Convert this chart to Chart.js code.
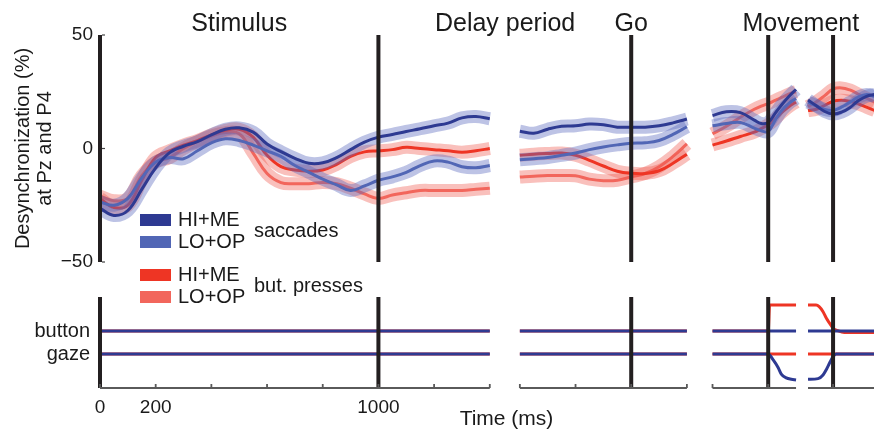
<!DOCTYPE html>
<html lang="en">
<head>
<meta charset="UTF-8">
<title>Desynchronization at Pz and P4</title>
<script src="https://cdn.jsdelivr.net/npm/chart.js@4.4.0/dist/chart.umd.min.js"></script>
<style>
  html, body { margin: 0; padding: 0; background: #fff; }
  #wrap { width: 874px; height: 435px; }
</style>
</head>
<body>
<div id="wrap"><canvas id="desyncChart" width="874" height="435"></canvas></div>
<script>
// ---- values ----
// the time axis is broken in 4 blocks, each aligned to its own event;
// a block's event sits at this position on the axis (ms)
const blockOffsets = [0, 1908, 2400, 2633];
const eventTimes = [0, 1000, 1908, 2400, 2633];
const periodNames = ['Stimulus', 'Delay period', 'Go', 'Movement'];
const periodNameAt = [500, 1455, 1908, 2517];
const xTickLabels = [0, 200, 1000];
const desyncTicks = [-50, 0, 50];
const traceNames = ['gaze', 'button'];
const conditionNames = ['HI+ME', 'LO+OP'];
const legendGroups = ['saccades', 'but. presses'];

// block 1: stimulus locked
const stimT     = [0, 50, 100, 150, 200, 250, 300, 350, 400, 450, 500, 550, 600, 650, 700, 750, 800, 850, 900, 950, 1000, 1050, 1100, 1150, 1200, 1250, 1300, 1350, 1400];
const stimSacHi = [-26.4, -29.5, -27.3, -18, -8.5, -1.8, 1, 3, 6, 8.5, 9.1, 7.2, 2, -1.4, -4.3, -6.5, -6.3, -4, -0.5, 2.8, 5, 6.2, 7.5, 8.7, 10, 11.2, 13.5, 14.1, 13.1];
const stimSacLo = [-23.5, -25, -22, -13, -6, -4, -4.5, -1, 2.5, 4.3, 3.5, 1.5, -1, -3.5, -7.5, -10.5, -13.5, -16, -18.5, -16.5, -14, -12.5, -10.5, -7.5, -5.5, -6, -8, -8.5, -7.5];
const stimBtnHi = [-22, -26, -25, -14, -4, -1, 1.5, 3.5, 6, 8, 8.5, 5, -3, -8, -9.5, -10, -9.5, -7, -3.5, -1.5, -1, -0.5, 0.5, 0, -0.5, -1, -1.6, -1, 0];
const stimBtnLo = [-21, -23, -22, -12, -6, -4, 0, 3, 5.5, 7, 6.5, -2, -11, -15, -15.5, -15.5, -15, -15.5, -17.5, -20, -22, -20.5, -19.5, -18.5, -18.5, -18.5, -18.5, -18, -17.5];

// block 2: go locked
const goT     = [-400, -350, -300, -250, -200, -150, -100, -50, 0, 50, 100, 150, 200];
const goSacHi = [7.6, 6.7, 8.5, 9.8, 10, 10.8, 10.5, 9.4, 9.4, 9.4, 10, 11.3, 13];
const goSacLo = [-5, -4.5, -4, -3, -2, -0.5, 0.7, 1.6, 2.3, 2.5, 3.5, 6.2, 9.6];
const goBtnHi = [-3, -2.5, -2.2, -2, -3, -5.2, -7.7, -10, -10.9, -11, -9.8, -6.5, -2.5];
const goBtnLo = [-12.6, -12.2, -11.9, -11.9, -12, -13.5, -14.2, -14, -12.5, -11, -8, -3.5, 2];

// block 3: movement onset
const moveT     = [-200, -150, -100, -50, -25, 0, 25, 50, 75, 100];
const moveSacHi = [14.5, 16.2, 15.8, 12.5, 11, 11.5, 15.5, 19.5, 23, 26];
const moveSacLo = [10, 11, 11.5, 9, 7.8, 7.5, 12.5, 17, 20, 22];
const moveBtnHi = [1.5, 3.3, 5.3, 7.2, 8.8, 10.5, 13, 16, 18.5, 20.5];
const moveBtnLo = [6.5, 9.8, 13.8, 17.3, 18.7, 19.8, 21.2, 22.6, 24, 25];

// block 4: return movement
const backT     = [-90, -60, -30, 0, 30, 60, 90, 120, 150];
const backSacHi = [21.4, 18.8, 16.3, 15.2, 16, 18, 21, 23, 23.8];
const backSacLo = [20.4, 18.8, 17.2, 16.8, 18.2, 20.3, 22.6, 23.8, 22.9];
const backBtnHi = [16.7, 17.3, 19, 20.8, 21.3, 20.8, 19.7, 18.2, 16.7];
const backBtnLo = [18.5, 20.6, 23.3, 26.2, 26.7, 25.8, 24, 22.2, 20.4];

// lower panel: button / gaze traces (gaze rest = 0, button rest = 1)
const stimTraceT = [0, 1400];
const goTraceT   = [-400, 200];
const moveRestT  = [-200, 100];
const backRestT  = [-90, 150];
const buttonRest = [1, 1];
const gazeRest   = [0, 0];
const movePressT = [-200, 0, 5, 100];
const movePress  = [1, 1, 2.13, 2.13];
const moveGazeT  = [-200, 0, 18, 36, 47, 65, 83, 100];
const moveGaze   = [0, 0, -0.26, -0.6, -0.87, -1.04, -1.1, -1.13];
const backPressT = [-90, -61, -50, -36, -24, -12, 0, 18, 40, 150];
const backPress  = [2.13, 2.13, 2.06, 1.84, 1.55, 1.33, 1.12, 1.01, 0.94, 0.94];
const backGazeT  = [-90, -54, -36, -24, -12, 0, 11, 150];
const backGaze   = [-1.1, -1.07, -0.91, -0.67, -0.38, -0.12, 0, 0];

// ---- styles ----
const colSacHi = '#2e3a92';
const colSacLo = '#5166b5';
const colBtnHi = '#ee3524';
const colBtnLo = '#f2665c';
const bandSac = 'rgba(90, 105, 190, 0.4)';
const bandBtn = 'rgba(240, 90, 80, 0.38)';
const ink = '#1a1a1a';
const fontFamily = "'Liberation Sans', Arial, Helvetica, sans-serif";

Chart.defaults.font.family = fontFamily;
Chart.defaults.color = ink;

// glue the blocks into one point list, with a gap between blocks
function joinBlocks(blocks) {
    const pts = [];
    blocks.forEach(([ts, vs, off], i) => {
        if (i > 0) pts.push({x: off + ts[0] - 1, y: null});
        ts.forEach((t, j) => pts.push({x: off + t, y: vs[j]}));
    });
    return pts;
}

function fourBlocks(a, b, c, d) {
    return joinBlocks([[stimT, a, blockOffsets[0]], [goT, b, blockOffsets[1]],
                       [moveT, c, blockOffsets[2]], [backT, d, blockOffsets[3]]]);
}

function traceBlocks(a, b, c, d) {
    return joinBlocks([[a[0], a[1], blockOffsets[0]], [b[0], b[1], blockOffsets[1]],
                       [c[0], c[1], blockOffsets[2]], [d[0], d[1], blockOffsets[3]]]);
}

function curve(label, data, color, width, order, yAxisID) {
    return {
        label, data, order, yAxisID,
        borderColor: color,
        borderWidth: width,
        pointRadius: 0,
        fill: false,
        spanGaps: false,
        tension: yAxisID === 'y' ? 0.4 : 0,
        cubicInterpolationMode: yAxisID === 'y' ? 'default' : 'monotone'
    };
}

const sacHi = fourBlocks(stimSacHi, goSacHi, moveSacHi, backSacHi);
const sacLo = fourBlocks(stimSacLo, goSacLo, moveSacLo, backSacLo);
const btnHi = fourBlocks(stimBtnHi, goBtnHi, moveBtnHi, backBtnHi);
const btnLo = fourBlocks(stimBtnLo, goBtnLo, moveBtnLo, backBtnLo);

const datasets = [
    curve('saccades HI+ME', sacHi, colSacHi, 3, 1, 'y'),
    curve('saccades HI+ME band', sacHi, bandSac, 13, 2, 'y'),
    curve('saccades LO+OP', sacLo, colSacLo, 3, 3, 'y'),
    curve('saccades LO+OP band', sacLo, bandSac, 13, 4, 'y'),
    curve('but. presses HI+ME', btnHi, colBtnHi, 3, 5, 'y'),
    curve('but. presses HI+ME band', btnHi, bandBtn, 13, 6, 'y'),
    curve('but. presses LO+OP', btnLo, colBtnLo, 3, 7, 'y'),
    curve('but. presses LO+OP band', btnLo, bandBtn, 13, 8, 'y'),
    // lower panel
    curve('saccade button', traceBlocks([stimTraceT, buttonRest], [goTraceT, buttonRest], [moveRestT, buttonRest], [backRestT, buttonRest]), colSacHi, 3, 11, 'yb'),
    curve('saccade gaze', traceBlocks([stimTraceT, gazeRest], [goTraceT, gazeRest], [moveGazeT, moveGaze], [backGazeT, backGaze]), colSacHi, 3, 12, 'yb'),
    curve('press button', traceBlocks([stimTraceT, buttonRest], [goTraceT, buttonRest], [movePressT, movePress], [backPressT, backPress]), colBtnHi, 3, 13, 'yb'),
    curve('press gaze', traceBlocks([stimTraceT, gazeRest], [goTraceT, gazeRest], [moveRestT, gazeRest], [backRestT, gazeRest]), colBtnHi, 3, 14, 'yb')
];

// event lines, broken time axis, period names and legend
const figureParts = {
    id: 'figureParts',
    afterDatasetsDraw(chart) {
        const {ctx, chartArea, scales: {x, y, yb}} = chart;
        ctx.save();
        ctx.strokeStyle = '#231f20';
        ctx.lineWidth = 4;
        eventTimes.forEach(t => {
            const px = x.getPixelForValue(t);
            ctx.beginPath();
            ctx.moveTo(px, y.getPixelForValue(50));
            ctx.lineTo(px, y.getPixelForValue(-50));
            ctx.moveTo(px, yb.getPixelForValue(2.48));
            ctx.lineTo(px, chartArea.bottom);
            ctx.stroke();
        });

        // small inward ticks on the desynchronization axis
        ctx.strokeStyle = '#444';
        ctx.lineWidth = 1.2;
        desyncTicks.forEach(v => {
            const py = y.getPixelForValue(v);
            ctx.beginPath();
            ctx.moveTo(chartArea.left + 2, py);
            ctx.lineTo(chartArea.left + 5, py);
            ctx.stroke();
        });

        // broken time axis
        ctx.strokeStyle = '#5a5a5a';
        ctx.lineWidth = 1.8;
        const axisY = chartArea.bottom;
        [stimT, goT, moveT, backT].forEach((ts, i) => {
            const off = blockOffsets[i];
            const t0 = ts[0], t1 = ts[ts.length - 1];
            ctx.beginPath();
            ctx.moveTo(x.getPixelForValue(off + t0), axisY);
            ctx.lineTo(x.getPixelForValue(off + t1), axisY);
            for (let t = Math.ceil(t0 / 200) * 200; t <= t1; t += 200) {
                const px = x.getPixelForValue(off + t);
                ctx.moveTo(px, axisY);
                ctx.lineTo(px, axisY - 4);
            }
            ctx.stroke();
        });
        ctx.restore();
    },
    afterDraw(chart) {
        const {ctx, scales: {x}} = chart;
        ctx.save();
        ctx.fillStyle = ink;
        ctx.textBaseline = 'alphabetic';
        ctx.textAlign = 'center';
        ctx.font = '25px ' + fontFamily;
        periodNames.forEach((name, i) => ctx.fillText(name, x.getPixelForValue(periodNameAt[i]), 31));

        ctx.font = '21px ' + fontFamily;
        ctx.fillText('Time (ms)', x.getPixelForValue(1460), 425);

        // legend
        const swatches = [[colSacHi, colSacLo], [colBtnHi, colBtnLo]];
        ctx.font = '20px ' + fontFamily;
        ctx.textAlign = 'left';
        legendGroups.forEach((group, gi) => {
            const top = 214 + gi * 55;
            conditionNames.forEach((name, ci) => {
                const y0 = top + ci * 22;
                ctx.fillStyle = swatches[gi][ci];
                ctx.fillRect(140, y0, 31, 12);
                ctx.fillStyle = ink;
                ctx.fillText(name, 178, y0 + 12);
            });
            ctx.fillText(group, 254, top + 22.5);
        });
        ctx.restore();
    }
};

new Chart(document.getElementById('desyncChart'), {
    type: 'line',
    data: {datasets},
    options: {
        responsive: false,
        devicePixelRatio: 1,
        animation: false,
        layout: {padding: {top: 35, left: 0, right: 0, bottom: 0}},
        plugins: {legend: {display: false}, tooltip: {enabled: false}},
        scales: {
            x: {
                type: 'linear', min: 0, max: 2780,
                grid: {display: false, drawTicks: false},
                border: {display: false},
                afterBuildTicks: s => { s.ticks = xTickLabels.map(v => ({value: v})); },
                ticks: {font: {size: 19}, padding: 8, maxRotation: 0, autoSkip: false, callback: v => String(v)},
                afterFit: s => { s.height = 47; }
            },
            y: {
                type: 'linear', position: 'left',
                stack: 'panels', stackWeight: 227, weight: 2,
                min: -50, max: 50,
                grid: {display: false, drawTicks: false},
                border: {display: false},
                afterBuildTicks: s => { s.ticks = desyncTicks.map(v => ({value: v})); },
                ticks: {font: {size: 19}, padding: 7, callback: v => v < 0 ? '\u2212' + (-v) : String(v)},
                title: {
                    display: true,
                    text: ['Desynchronization (%)', 'at Pz and P4'],
                    font: {size: 20, lineHeight: 1.1},
                    padding: {top: 12, bottom: 0}
                },
                afterFit: s => { s.width = 100; }
            },
            yb: {
                type: 'linear', position: 'left',
                stack: 'panels', stackWeight: 126, weight: 1,
                min: -1.478, max: 4.0,
                grid: {display: false, drawTicks: false},
                border: {display: false},
                afterBuildTicks: s => { s.ticks = [0, 1].map(v => ({value: v})); },
                ticks: {font: {size: 20}, padding: 10, callback: v => traceNames[v]},
                afterFit: s => { s.width = 100; }
            }
        }
    },
    plugins: [figureParts]
});
</script>
</body>
</html>
